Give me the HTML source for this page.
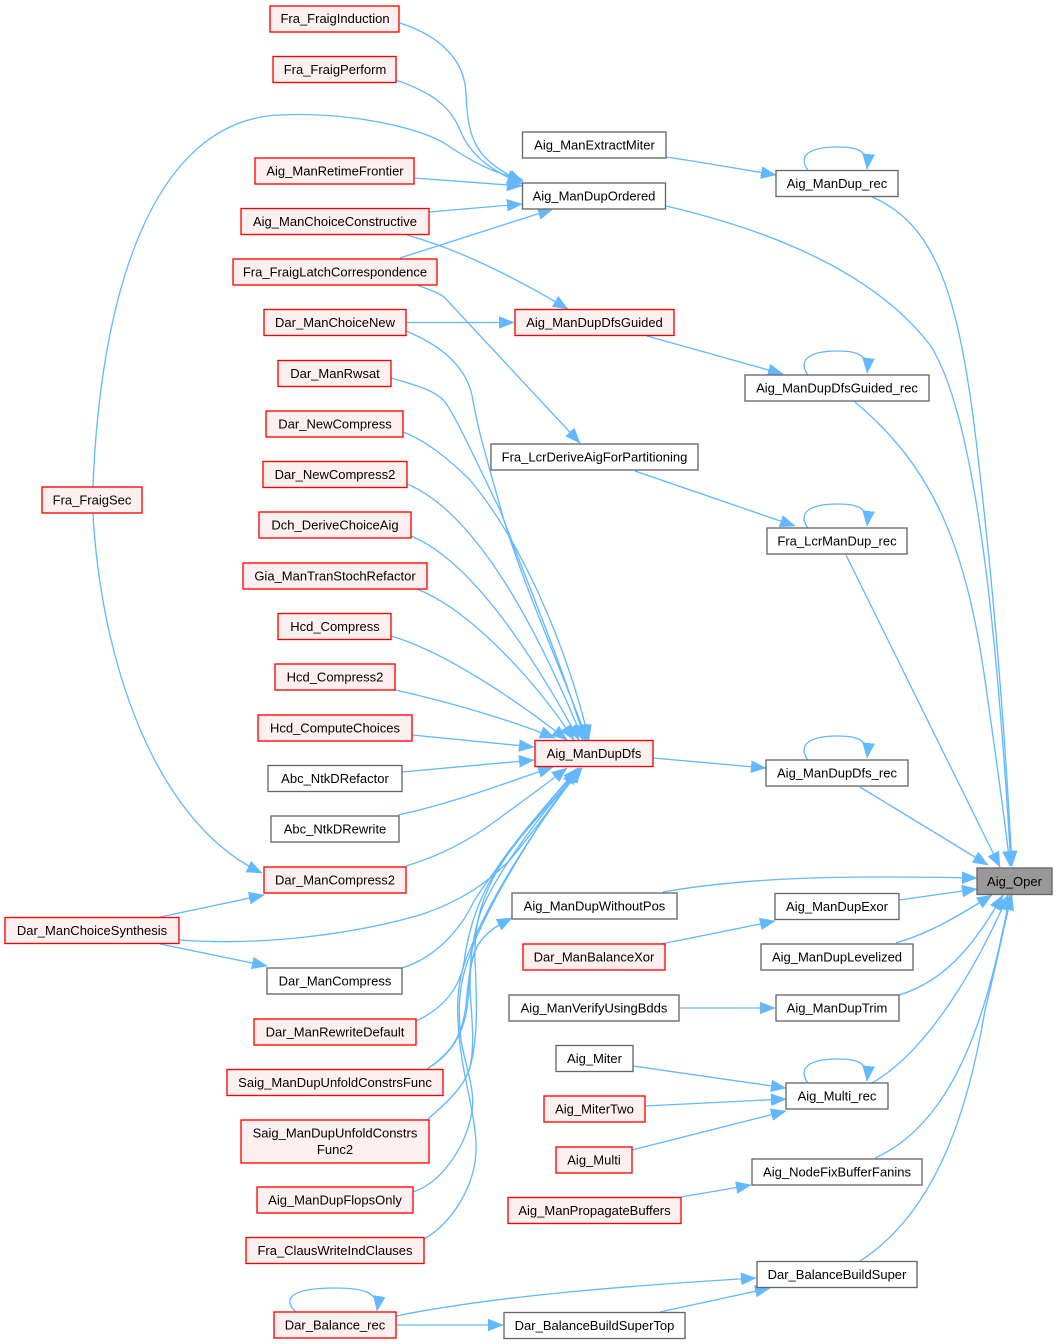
<!DOCTYPE html>
<html><head><meta charset="utf-8"><style>
html,body{margin:0;padding:0;background:#fff}
svg{display:block}
text{font-family:"Liberation Sans",Arial,sans-serif;font-size:13px;fill:#000;text-anchor:middle}
.e{fill:none;stroke:#63b8ff;stroke-width:1.33;marker-end:url(#a)}
.r{fill:#fff0f0;stroke:#ff0000;stroke-width:1.33}
.w{fill:#fff;stroke:#666;stroke-width:1.33}
.g{fill:#999;stroke:#666;stroke-width:1.33}
</style></head><body>
<svg width="1057" height="1344" viewBox="0 0 1057 1344" xmlns="http://www.w3.org/2000/svg">
<defs><marker id="a" markerUnits="userSpaceOnUse" markerWidth="17" markerHeight="14" refX="15" refY="7" orient="auto"><path d="M0,1 L15,7 L0,13 Z" fill="#63b8ff" stroke="#63b8ff" stroke-width="0.5"/></marker></defs>
<!-- edges into Aig_Oper -->
<path class="e" d="M872,197 C950,230 965,330 985,520 C1000,660 1008,790 1012,866"/>
<path class="e" d="M666,206 C790,235 880,280 930,345 C980,420 1000,680 1011,866"/>
<path class="e" d="M855,402 C930,465 965,540 985,680 C995,750 1005,820 1010,866"/>
<path class="e" d="M846,555 L1000,867"/>
<path class="e" d="M860,787 L988,865"/>
<path class="e" d="M663,892 C760,875 870,876 977,878"/>
<path class="e" d="M899,900 L977,889"/>
<path class="e" d="M896,943 C930,933 960,915 992,895"/>
<path class="e" d="M899,995 C950,980 980,935 1003,895"/>
<path class="e" d="M872,1083 C930,1050 980,960 1008,895"/>
<path class="e" d="M875,1158 C960,1120 990,1000 1010,895"/>
<path class="e" d="M860,1261 C940,1210 970,1100 985,1010 C1000,950 1005,920 1012,895"/>
<!-- self loops -->
<path class="e" d="M808,170 C800,160 802,147 838,147 C856,147 869,150 867,169"/>
<path class="e" d="M808,375 C800,364 802,351 838,351 C856,351 869,354 867,373"/>
<path class="e" d="M808,528 C800,517 802,504 838,504 C856,504 869,507 867,526"/>
<path class="e" d="M808,760 C800,749 802,736 838,736 C856,736 869,739 867,758"/>
<path class="e" d="M808,1083 C800,1072 802,1059 838,1059 C856,1059 869,1062 867,1081"/>
<path class="e" d="M296,1312 C283,1300 288,1288 335,1288 C360,1288 380,1291 377,1311"/>
<!-- middle to right -->
<path class="e" d="M666,157 C700,162 740,169 776,175"/>
<path class="e" d="M647,336 L783,374"/>
<path class="e" d="M635,471 L795,526"/>
<path class="e" d="M653,758 L766,768"/>
<path class="e" d="M679,1008 L775,1008"/>
<path class="e" d="M661,944 L775,921"/>
<path class="e" d="M633,1066 L786,1088"/>
<path class="e" d="M645,1106 L786,1099"/>
<path class="e" d="M632,1150 L786,1111"/>
<path class="e" d="M681,1197 L751,1185"/>
<path class="e" d="M396,1316 C500,1295 640,1285 756,1278"/>
<path class="e" d="M396,1325 L503,1325"/>
<path class="e" d="M660,1312 L770,1288"/>
<!-- into ManDupOrdered -->
<path class="e" d="M400,23 C440,36 465,60 466,94 C468,140 475,160 523,182"/>
<path class="e" d="M396,80 C430,92 450,105 460,130 C470,155 490,170 522,184"/>
<path class="e" d="M93,487 C100,300 150,120 280,115 C340,112 420,125 450,147 C470,160 490,172 523,180"/>
<path class="e" d="M414,178 L522,186"/>
<path class="e" d="M429,212 L522,204"/>
<path class="e" d="M400,258 L553,209"/>
<path class="e" d="M407,235 C460,250 510,275 568,309"/>
<path class="e" d="M417,285 C430,290 440,293 445,298 L580,443"/>
<path class="e" d="M406,322.500 L514,322.500"/>
<!-- into ManDupDfs top -->
<path class="e" d="M406,331 C440,345 465,365 472,395 C478,430 483,445 503,517 C525,590 562,670 587,740"/>
<path class="e" d="M391,378 C415,385 435,390 445,402 C458,420 480,470 500,510 C530,590 560,660 585,740"/>
<path class="e" d="M403,432 C425,440 450,460 470,480 C520,540 565,640 589,740"/>
<path class="e" d="M407,484 C470,510 530,610 583,740"/>
<path class="e" d="M411,536 C470,560 530,650 579,740"/>
<path class="e" d="M417,589 C470,610 535,680 574,740"/>
<path class="e" d="M391,636 C440,650 510,695 567,740"/>
<path class="e" d="M395,690 C450,702 510,720 555,738"/>
<path class="e" d="M412,735 L534,747"/>
<path class="e" d="M402,772 L534,760"/>
<path class="e" d="M398,815 C450,804 500,785 553,767"/>
<path class="e" d="M406,866 C440,856 470,840 497,820 C520,803 545,785 567,768"/>
<path class="e" d="M179,940 C260,946 350,935 420,915 C465,900 490,880 510,860 C530,835 555,805 576,769"/>
<path class="e" d="M402,968 C435,958 460,930 473,903 C482,888 490,878 497,868 C515,840 555,795 578,768"/>
<path class="e" d="M416,1021 C440,1010 462,990 465,955 C470,925 480,895 497,870 C515,840 555,795 580,768"/>
<path class="e" d="M427,1069 C450,1055 465,1035 468,1000 C470,975 470,950 478,920 C490,880 540,815 581,768"/>
<path class="e" d="M428,1119 C450,1100 465,1085 470,1067 C478,1040 477,1000 475,960 C474,930 480,905 490,885 C505,850 540,815 582,768"/>
<path class="e" d="M427,1069 C448,1055 462,1040 466,1005 C468,985 470,960 478,945 C486,932 498,925 512,918"/>
<path class="e" d="M428,1119 C450,1100 465,1085 470,1067 C476,1040 470,1005 470,985 C470,965 472,955 478,945 C486,932 498,925 512,918"/>
<path class="e" d="M413,1192 C440,1183 465,1150 472,1112 C476,1085 462,1060 460,1030 C458,1000 460,980 470,955 C478,925 530,830 582,768"/>
<path class="e" d="M424,1239 C450,1225 478,1185 476,1143 C474,1105 460,1070 458,1020 C456,990 462,965 472,945 C480,920 530,830 582,768"/>
<!-- Fra_FraigSec / synthesis -->
<path class="e" d="M93,513 C100,650 150,820 262,873"/>
<path class="e" d="M160,917 L264,895"/>
<path class="e" d="M160,944 L267,966"/>
<!-- nodes left -->
<rect class="r" x="270" y="6" width="129" height="26"/><text x="335" y="23">Fra_FraigInduction</text>
<rect class="r" x="273" y="56.500" width="123" height="26"/><text x="335" y="74">Fra_FraigPerform</text>
<rect class="r" x="255" y="158" width="159" height="26"/><text x="335" y="175.500">Aig_ManRetimeFrontier</text>
<rect class="r" x="241" y="208.500" width="188" height="26"/><text x="335" y="226">Aig_ManChoiceConstructive</text>
<rect class="r" x="233" y="259" width="204" height="26"/><text x="335" y="276.500">Fra_FraigLatchCorrespondence</text>
<rect class="r" x="264" y="309.500" width="142" height="26"/><text x="335" y="327">Dar_ManChoiceNew</text>
<rect class="r" x="278" y="360.500" width="113" height="26"/><text x="335" y="378">Dar_ManRwsat</text>
<rect class="r" x="266" y="411" width="137" height="26"/><text x="335" y="428.500">Dar_NewCompress</text>
<rect class="r" x="263" y="461.500" width="144" height="26"/><text x="335" y="479">Dar_NewCompress2</text>
<rect class="r" x="259" y="512" width="152" height="26"/><text x="335" y="529.500">Dch_DeriveChoiceAig</text>
<rect class="r" x="243" y="563" width="184" height="26"/><text x="335" y="580.500">Gia_ManTranStochRefactor</text>
<rect class="r" x="278" y="613.500" width="113" height="26"/><text x="335" y="631">Hcd_Compress</text>
<rect class="r" x="275" y="664" width="120" height="26"/><text x="335" y="681.500">Hcd_Compress2</text>
<rect class="r" x="258" y="715" width="154" height="26"/><text x="335" y="732.500">Hcd_ComputeChoices</text>
<rect class="w" x="268" y="765.500" width="134" height="26"/><text x="335" y="783">Abc_NtkDRefactor</text>
<rect class="w" x="271" y="816" width="128" height="26"/><text x="335" y="833.500">Abc_NtkDRewrite</text>
<rect class="r" x="264" y="867" width="142" height="26"/><text x="335" y="884.500">Dar_ManCompress2</text>
<rect class="r" x="5" y="917.500" width="174" height="26"/><text x="92" y="935">Dar_ManChoiceSynthesis</text>
<rect class="w" x="267" y="968" width="135" height="26"/><text x="335" y="985.500">Dar_ManCompress</text>
<rect class="r" x="254" y="1019" width="162" height="26"/><text x="335" y="1036.500">Dar_ManRewriteDefault</text>
<rect class="r" x="227" y="1069.500" width="216" height="26"/><text x="335" y="1087">Saig_ManDupUnfoldConstrsFunc</text>
<rect class="r" x="241" y="1120" width="188" height="43"/><text x="335" y="1137.500">Saig_ManDupUnfoldConstrs</text><text x="335" y="1154">Func2</text>
<rect class="r" x="257" y="1187" width="156" height="26"/><text x="335" y="1204.500">Aig_ManDupFlopsOnly</text>
<rect class="r" x="246" y="1237.500" width="178" height="26"/><text x="335" y="1255">Fra_ClausWriteIndClauses</text>
<rect class="r" x="274" y="1312" width="122" height="26"/><text x="335" y="1329.500">Dar_Balance_rec</text>
<rect class="r" x="42" y="487" width="100" height="26"/><text x="92" y="504.500">Fra_FraigSec</text>
<!-- nodes middle -->
<rect class="w" x="522.500" y="132" width="143.500" height="26"/><text x="594.500" y="149.500">Aig_ManExtractMiter</text>
<rect class="w" x="522.500" y="183" width="143" height="26"/><text x="594" y="200.500">Aig_ManDupOrdered</text>
<rect class="r" x="515" y="309.500" width="159" height="26"/><text x="594.500" y="327">Aig_ManDupDfsGuided</text>
<rect class="w" x="491" y="444" width="207" height="26"/><text x="594.500" y="461.500">Fra_LcrDeriveAigForPartitioning</text>
<rect class="r" x="535" y="740.500" width="118" height="26"/><text x="594" y="758">Aig_ManDupDfs</text>
<rect class="w" x="512" y="893" width="165" height="26"/><text x="594.500" y="910.500">Aig_ManDupWithoutPos</text>
<rect class="r" x="523" y="944" width="142" height="26"/><text x="594" y="961.500">Dar_ManBalanceXor</text>
<rect class="w" x="509" y="995" width="170" height="26"/><text x="594" y="1012.500">Aig_ManVerifyUsingBdds</text>
<rect class="w" x="556" y="1045.500" width="77" height="26"/><text x="594.500" y="1063">Aig_Miter</text>
<rect class="r" x="544" y="1096" width="101" height="26"/><text x="594.500" y="1113.500">Aig_MiterTwo</text>
<rect class="r" x="556" y="1147" width="76" height="26"/><text x="594" y="1164.500">Aig_Multi</text>
<rect class="r" x="508" y="1197.500" width="173" height="26"/><text x="594.500" y="1215">Aig_ManPropagateBuffers</text>
<rect class="w" x="504" y="1312.500" width="181" height="26"/><text x="594.500" y="1330">Dar_BalanceBuildSuperTop</text>
<!-- nodes right -->
<rect class="w" x="776" y="170.500" width="122" height="26"/><text x="837" y="188">Aig_ManDup_rec</text>
<rect class="w" x="745" y="375" width="184" height="26"/><text x="837" y="392.500">Aig_ManDupDfsGuided_rec</text>
<rect class="w" x="767" y="528" width="140" height="26"/><text x="837" y="545.500">Fra_LcrManDup_rec</text>
<rect class="w" x="766" y="760" width="142" height="26"/><text x="837" y="777.500">Aig_ManDupDfs_rec</text>
<rect class="w" x="775" y="893.500" width="124" height="26"/><text x="837" y="911">Aig_ManDupExor</text>
<rect class="w" x="761" y="944" width="152" height="26"/><text x="837" y="961.500">Aig_ManDupLevelized</text>
<rect class="w" x="776" y="995" width="123" height="26"/><text x="837" y="1012.500">Aig_ManDupTrim</text>
<rect class="w" x="786" y="1083" width="102" height="26"/><text x="837" y="1100.500">Aig_Multi_rec</text>
<rect class="w" x="752" y="1159" width="170" height="26"/><text x="837" y="1176.500">Aig_NodeFixBufferFanins</text>
<rect class="w" x="757" y="1261.500" width="160" height="26"/><text x="837" y="1279">Dar_BalanceBuildSuper</text>
<rect class="g" x="977" y="868" width="75" height="26.500"/><text x="1014.500" y="886">Aig_Oper</text>
</svg>
</body></html>
